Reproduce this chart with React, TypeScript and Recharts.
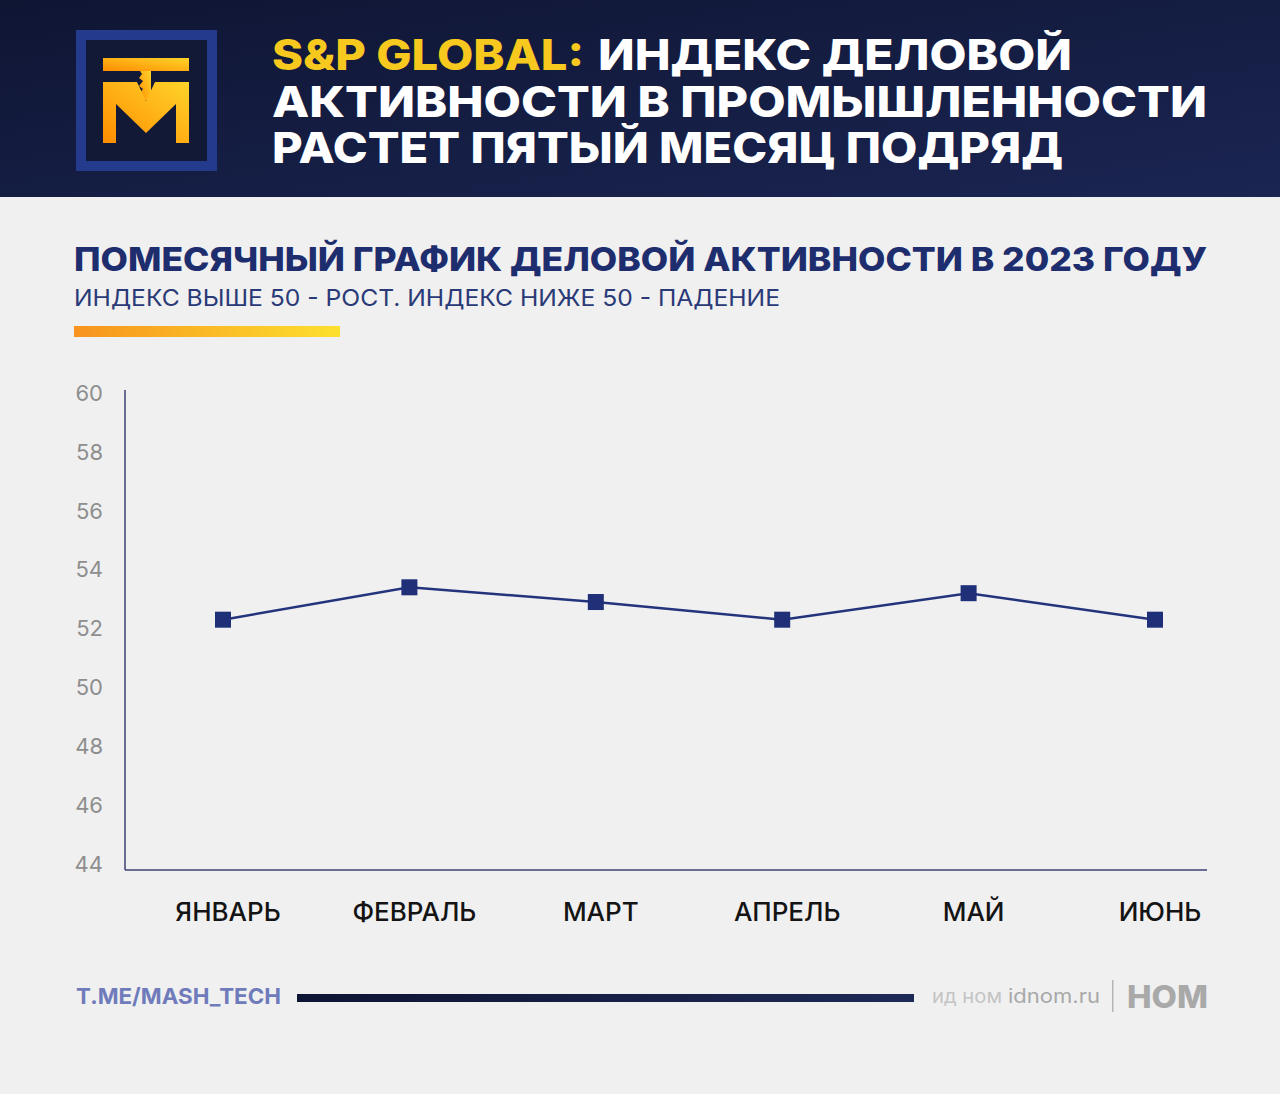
import React from 'react'
import { LineChart, Line, XAxis, YAxis } from 'recharts'

const months = ['ЯНВАРЬ', 'ФЕВРАЛЬ', 'МАРТ', 'АПРЕЛЬ', 'МАЙ', 'ИЮНЬ']
const pmi = [52.3, 53.4, 52.9, 52.3, 53.2, 52.3]
const yTicks = [44, 46, 48, 50, 52, 54, 56, 58, 60]

const data = months.map((m, i) => ({ month: m, value: pmi[i] }))

const NAVY = '#1f2f78'
const FONT = 'Inter, "Noto Sans", sans-serif'

const SquareDot = (props: any) => {
  const { cx, cy } = props
  if (cx == null || cy == null) return null
  return <rect x={cx - 8} y={cy - 8} width={16} height={16} fill={NAVY} />
}

// month label, nudged a little to the right like the original
const MonthTick = (props: any) => {
  const { x, y, payload } = props
  return (
    <text x={x + 5} y={y} dy={19} textAnchor="middle" fill="#141414" fontSize={26} fontWeight={500} fontFamily={FONT}>
      {payload.value}
    </text>
  )
}

function Header() {
  return (
    <svg width={1280} height={197} style={{ position: 'absolute', left: 0, top: 0 }}>
      <defs>
        <linearGradient id="hdr" x1="0" y1="0" x2="1" y2="1">
          <stop offset="0%" stopColor="#0f1533" />
          <stop offset="100%" stopColor="#1a2552" />
        </linearGradient>
        <linearGradient id="logoGrad" x1="1" y1="0" x2="0" y2="1">
          <stop offset="0%" stopColor="#ffd42a" />
          <stop offset="100%" stopColor="#ff8c00" />
        </linearGradient>
      </defs>
      <rect x={0} y={0} width={1280} height={197} fill="url(#hdr)" />
      {/* logo */}
      <rect x={76} y={30} width={141} height={141} fill="#243a8c" />
      <rect x={86} y={40} width={121} height={121} fill="#111937" />
      <rect x={103} y={58} width={86} height={13} fill="url(#logoGrad)" />
      <polygon
        points="140,71 151,71 151,104 146,100 140,100 143,96 139,94 143,89 139,86 143,81 139,78 142,74"
        fill="url(#logoGrad)"
      />
      <polygon
        points="103,82 137,82 146,101 155,82 189,82 189,143 176,143 176,104 146,133 116,104 116,143 103,143"
        fill="url(#logoGrad)"
      />
      {/* title */}
      <g fontFamily={FONT} fontWeight={800} fontSize={42}>
        <text x={272} y={70} fill="#f7c81e" textLength={312} lengthAdjust="spacingAndGlyphs">
          S&amp;P GLOBAL:
        </text>
        <text x={598} y={70} fill="#ffffff" textLength={474} lengthAdjust="spacingAndGlyphs">
          ИНДЕКС ДЕЛОВОЙ
        </text>
        <text x={272} y={117} fill="#ffffff" textLength={935} lengthAdjust="spacingAndGlyphs">
          АКТИВНОСТИ В ПРОМЫШЛЕННОСТИ
        </text>
        <text x={272} y={163} fill="#ffffff" textLength={791} lengthAdjust="spacingAndGlyphs">
          РАСТЕТ ПЯТЫЙ МЕСЯЦ ПОДРЯД
        </text>
      </g>
    </svg>
  )
}

function Subtitle() {
  return (
    <svg width={1280} height={120} style={{ position: 'absolute', left: 0, top: 230 }}>
      <defs>
        <linearGradient id="bar" x1="0" y1="0" x2="1" y2="0">
          <stop offset="0%" stopColor="#f7931e" />
          <stop offset="100%" stopColor="#fde02e" />
        </linearGradient>
      </defs>
      <text
        x={74}
        y={41}
        fontFamily={FONT}
        fontWeight={800}
        fontSize={33}
        fill="#1e2d6e"
        textLength={1133}
        lengthAdjust="spacingAndGlyphs"
      >
        ПОМЕСЯЧНЫЙ ГРАФИК ДЕЛОВОЙ АКТИВНОСТИ В 2023 ГОДУ
      </text>
      <text
        x={74}
        y={76}
        fontFamily={FONT}
        fontWeight={400}
        fontSize={23}
        fill="#2a3977"
        textLength={706}
        lengthAdjust="spacingAndGlyphs"
      >
        ИНДЕКС ВЫШЕ 50 - РОСТ.  ИНДЕКС НИЖЕ 50 - ПАДЕНИЕ
      </text>
      <rect x={74} y={96} width={266} height={11} fill="url(#bar)" />
    </svg>
  )
}

function Footer() {
  return (
    <svg width={1280} height={80} style={{ position: 'absolute', left: 0, top: 960 }}>
      <defs>
        <linearGradient id="foot" x1="0" y1="0" x2="1" y2="0">
          <stop offset="0%" stopColor="#0e1433" />
          <stop offset="100%" stopColor="#1e2a56" />
        </linearGradient>
      </defs>
      <text
        x={76}
        y={44}
        fontFamily={FONT}
        fontWeight={700}
        fontSize={22}
        fill="#6f7bbb"
        textLength={205}
        lengthAdjust="spacingAndGlyphs"
      >
        T.ME/MASH_TECH
      </text>
      <rect x={297} y={34} width={617} height={8} fill="url(#foot)" />
      <text x={932} y={43} fontFamily={FONT} fontSize={19} fill="#c4c4c4" textLength={70} lengthAdjust="spacingAndGlyphs">
        ид ном
      </text>
      <text x={1008} y={43} fontFamily={FONT} fontSize={20} fill="#a8a8a8" textLength={92} lengthAdjust="spacingAndGlyphs">
        idnom.ru
      </text>
      <rect x={1112} y={20} width={1.5} height={32} fill="#b5b5b5" />
      <text
        x={1127}
        y={48}
        fontFamily={FONT}
        fontWeight={800}
        fontSize={31}
        fill="#a9a9a9"
        textLength={81}
        lengthAdjust="spacingAndGlyphs"
      >
        НОМ
      </text>
    </svg>
  )
}

export default function App() {
  return (
    <div
      style={{
        position: 'absolute',
        left: 0,
        top: 0,
        width: 1280,
        height: 1094,
        background: '#f0f0f0',
        overflow: 'hidden',
        fontFamily: FONT,
      }}
    >
      <Header />
      <Subtitle />
      <div style={{ position: 'absolute', left: 0, top: 370 }}>
        <LineChart
          width={1280}
          height={580}
          data={data}
          margin={{ top: 20, right: 73, bottom: 20, left: 0 }}
        >
          <XAxis
            dataKey="month"
            height={60}
            padding={{ left: 98, right: 52 }}
            axisLine={{ stroke: '#3b4272', strokeWidth: 1.5 }}
            tickLine={false}
            tickSize={0}
            tickMargin={32}
            tick={<MonthTick />}
          />
          <YAxis
            type="number"
            domain={[43.8, 60.1]}
            ticks={yTicks}
            width={125}
            axisLine={{ stroke: '#3b4272', strokeWidth: 1.5 }}
            tickLine={false}
            tickSize={0}
            tickMargin={22}
            tick={{ fill: '#8e8e8e', fontSize: 22, fontFamily: FONT }}
          />
          <Line
            type="linear"
            dataKey="value"
            stroke="#24347c"
            strokeWidth={2.5}
            dot={<SquareDot />}
            activeDot={false}
            isAnimationActive={false}
          />
        </LineChart>
      </div>
      <Footer />
    </div>
  )
}
